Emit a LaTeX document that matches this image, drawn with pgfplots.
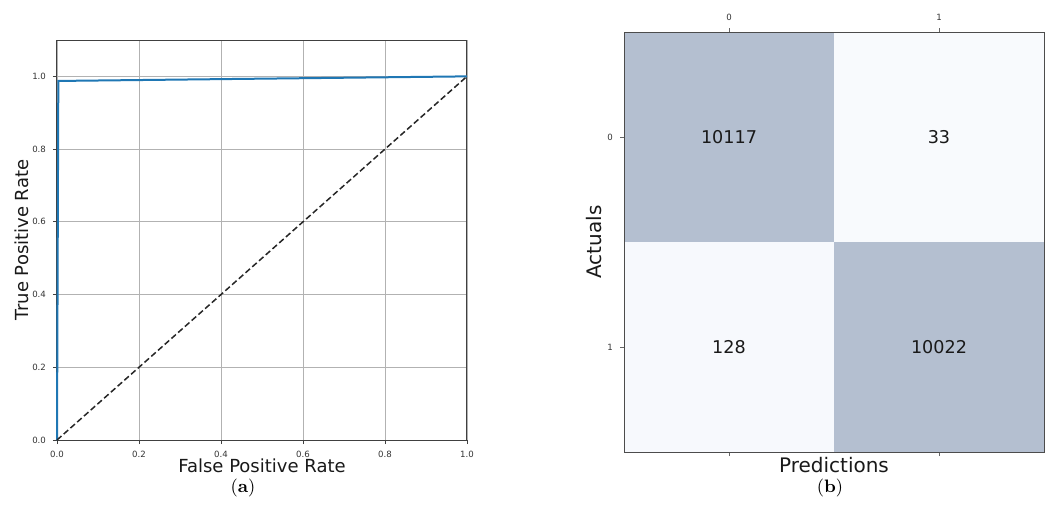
\documentclass[border=0pt]{standalone}
\usepackage{pgfplots}
\pgfplotsset{compat=1.18}
\usepackage{fontspec}
\newfontfamily\dv{DejaVu Sans}
\definecolor{mplblue}{HTML}{1F77B4}
\definecolor{cmdark}{RGB}{180,191,208}
\definecolor{cmlight}{RGB}{248,250,253}
\begin{document}
\begin{tikzpicture}
\path[use as bounding box] (0,0) rectangle (525.5pt,263.5pt);
\begin{axis}[
  at={(28.5pt,43.5pt)}, anchor=south west, scale only axis,
  width=205pt, height=200pt,
  xmin=0, xmax=1, ymin=0, ymax=1.1,
  xtick={0,0.2,0.4,0.6,0.8,1.0}, ytick={0,0.2,0.4,0.6,0.8,1.0},
  /pgf/number format/.cd, fixed, fixed zerofill, precision=1, assume math mode=true,
  /pgfplots/.cd,
  grid=major, grid style={color=black!30, line width=0.4pt},
  axis line style={black!75, line width=0.5pt},
  tick style={black!75, line width=0.4pt}, tick align=outside, major tick length=2pt,
  xtick pos=bottom, ytick pos=left,
  ticklabel style={font=\dv\fontsize{4.3}{5}\selectfont, text=black!80},
  xlabel={False Positive Rate}, ylabel={True Positive Rate},
  label style={font=\dv\fontsize{9}{10}\selectfont, text=black!90},
  xlabel style={at={(axis description cs:0.5,-0.065)}, anchor=center},
  ylabel style={at={(axis description cs:-0.0854,0.5)}, anchor=center},
  clip=false,
]
\addplot[mplblue, line width=1pt] coordinates {(0,0) (0.00325,0.9874) (1,1)};
\addplot[black!85, line width=0.75pt, dash pattern=on 3pt off 1.5pt] coordinates {(0,0) (1,1)};
\end{axis}
\begin{axis}[
  at={(312pt,37.5pt)}, anchor=south west, scale only axis,
  width=210pt, height=210pt,
  xmin=-0.5, xmax=1.5, ymin=-0.5, ymax=1.5, y dir=reverse,
  enlargelimits=false,
  xtick={0,1}, ytick={0,1},
  /pgf/number format/assume math mode=true,
  xtick pos=both, xticklabel pos=upper, ytick pos=left,
  tick align=outside, major tick length=2pt,
  tick style={black!60, line width=0.4pt},
  axis line style={black!70, line width=0.5pt},
  ticklabel style={font=\dv\fontsize{4.3}{5}\selectfont, text=black!80},
  colormap={cm}{color=(cmlight) color=(cmdark)},
  point meta min=33, point meta max=10117,
  axis on top,
  xlabel={Predictions}, ylabel={Actuals},
  label style={font=\dv\fontsize{10}{11}\selectfont, text=black!90},
  xlabel style={at={(axis description cs:0.5,-0.031)}, anchor=center},
  ylabel style={at={(axis description cs:-0.0714,0.5)}, anchor=center},
]
\addplot[matrix plot*, mesh/cols=2, point meta=explicit] table[meta=c] {
x y c
0 0 10117
1 0 33
0 1 128
1 1 10022
};
\addplot[only marks, mark=none,
  nodes near coords, point meta=explicit symbolic,
  every node near coord/.append style={font=\dv\fontsize{8.8}{10}\selectfont, anchor=center, text=black!90}]
  table[meta=c] {
x y c
0 0 10117
1 0 33
0 1 128
1 1 10022
};
\end{axis}
\node[font=\fontsize{9}{10}\selectfont] at (121.5pt,19.5pt) {(\textbf{a})};
\node[font=\fontsize{9}{10}\selectfont] at (415pt,19.5pt) {(\textbf{b})};
\end{tikzpicture}
\end{document}
